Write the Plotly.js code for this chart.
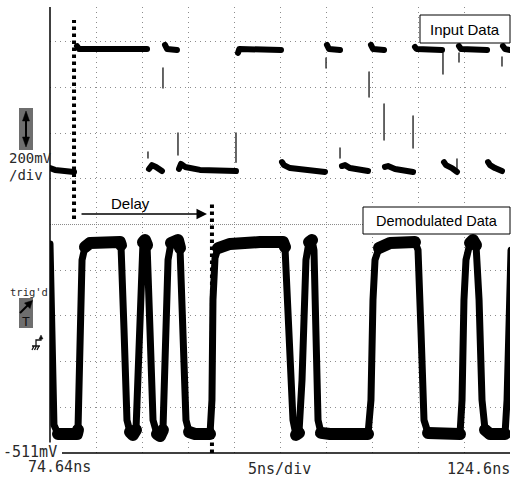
<!DOCTYPE html>
<html>
<head>
<meta charset="utf-8">
<script src="https://cdn.plot.ly/plotly-3.0.1.min.js"></script>
<style>
html,body{margin:0;padding:0;background:#fff;}
#chart{width:513px;height:479px;}
.scatterlayer path.js-line{stroke-linejoin:round !important;stroke-linecap:round !important;}
</style>
</head>
<body>
<div id="chart"></div>
<script>
// ---- Data (time in ns, screen level in mV) ----
var xRange = [74.64, 124.6];
var yRange = [-511, 1441];
var xGrid = [79.64, 84.64, 89.64, 94.64, 99.64, 104.64, 109.64, 114.64, 119.64, 124.6];
var yGrid = [-311, -111, 89, 289, 689, 889, 1089, 1289];
var ySeparator = 489;

// Demodulated Data waveform
var demodX = [74.64, 74.86, 75.07, 75.51, 77.57, 77.68, 77.90, 78.12, 78.44, 78.98,
  82.24, 82.35, 82.68, 83.00, 83.33, 83.65, 83.98, 84.31, 84.52, 84.74,
  84.96, 85.18, 85.50, 85.83, 86.26, 86.59, 86.91, 87.24, 87.46, 87.78,
  88.22, 88.54, 88.76, 89.09, 89.41, 89.74, 90.39, 92.02, 92.23, 92.34,
  92.56, 92.89, 94.19, 97.45, 99.95, 100.16, 100.60, 101.03, 101.36, 101.68,
  102.01, 102.23, 102.44, 102.77, 103.10, 103.31, 103.53, 103.75, 104.07, 105.05,
  109.18, 109.50, 109.72, 109.94, 110.37, 111.57, 114.28, 114.61, 114.93, 115.26,
  115.70, 117.00, 119.17, 119.39, 119.60, 119.82, 120.26, 120.58, 120.91, 121.24,
  121.56, 121.89, 122.43, 124.06, 124.28, 124.49, 124.71];
var demodY = [404, 27, -388, -428, -428, -410, -16, 334, 391, 408,
  412, 399, 27, -367, -419, -432, -410, -60, 334, 412,
  421, 399, 27, -367, -428, -437, -410, 27, 334, 408,
  421, 421, 386, 27, -367, -419, -428, -428, -279, 159,
  342, 386, 404, 412, 412, 391, 27, -367, -432, -423,
  -192, 159, 334, 412, 421, 377, 27, -367, -423, -428,
  -428, -279, 159, 334, 386, 408, 412, 377, 27, -367,
  -423, -428, -428, -279, 159, 334, 408, 421, 399, 159,
  -279, -410, -428, -428, -279, 159, 377];

// Input Data plateaus (segments separated by null)
var inputX = [74.64, 75.18, 77.25, null,
  77.57, 77.79, 85.18, null,
  85.39, 85.72, 86.15, 86.80, null,
  87.13, 87.35, 88.43, null,
  88.65, 88.87, 89.31, 90.93, 94.84, null,
  95.06, 95.20, 99.73, null,
  99.84, 100.05, 100.71, 104.51, null,
  104.72, 104.94, 106.14, null,
  106.35, 106.68, 107.22, 109.18, null,
  109.50, 109.72, 110.92, null,
  111.02, 111.35, 112.11, 114.07, null,
  114.28, 114.45, 117.22, null,
  117.43, 117.65, 118.30, 118.84, null,
  119.06, 119.28, 122.11, null,
  122.22, 122.43, 122.97, 123.73, null,
  123.84, 124.06, 124.60];
var inputY = [736, 728, 719, null,
  1270, 1257, 1257, null,
  732, 749, 741, 723, null,
  1275, 1257, 1253, null,
  732, 754, 741, 728, 723, null,
  1240, 1257, 1253, null,
  762, 749, 736, 719, null,
  1275, 1257, 1253, null,
  745, 749, 736, 723, null,
  1275, 1257, 1253, null,
  741, 745, 732, 719, null,
  1266, 1257, 1253, null,
  762, 749, 736, 719, null,
  1270, 1257, 1253, null,
  762, 749, 736, 723, null,
  1270, 1257, 1253];

// Input Data partial transitions (thin vertical strokes)
var edgeX = [85.28, 85.28, null, 86.91, 86.91, null, 88.54, 88.54, null, 94.84, 94.84, null,
  104.62, 104.62, null, 106.14, 106.14, null, 109.29, 109.29, null, 110.92, 110.92, null,
  114.07, 114.07, null, 117.32, 117.32, null, 118.84, 118.84, null, 119.06, 119.06, null,
  123.73, 123.73];
var edgeY = [806, 780, null, 1174, 1086, null, 889, 793, null, 889, 762, null,
  1218, 1174, null, 824, 780, null, 1156, 1047, null, 1016, 859, null,
  964, 824, null, 1240, 1148, null, 776, 714, null, 1240, 1200, null,
  1222, 1183];

// Delay markers
var delayStart = 77.25, delayEnd = 92.23;
var delayArrowTail = 77.90, delayArrowHead = 91.69, delayArrowLevel = 535;
var delayStartTop = 1384, delayStartBottom = 513, delayEndTop = 583;

// Screen labels
var labels = {
  vdiv: "200mV", vdiv2: "/div", bottomV: "-511mV", tLeft: "74.64ns", tDiv: "5ns/div",
  tRight: "124.6ns", trig: "trig'd", trigT: "T", input: "Input Data",
  demod: "Demodulated Data", delay: "Delay"
};

// ---- Layout helpers (pixel -> paper) ----
var L = 50, T = 7, PW = 460, PH = 446;
function P(px) { return (px - L) / PW; }
function Q(py) { return (T + PH - py) / PH; }
function path(pts) {
  return pts.map(function (s) {
    return s.map(function (p, i) { return (i === 0 ? 'M' : 'L') + P(p[0]).toFixed(5) + ',' + Q(p[1]).toFixed(5); }).join(' ') + (s.closed ? ' Z' : '');
  }).join(' ');
}
function tri(a, b, c) { var s = [a, b, c]; s.closed = true; return s; }

var plateauY = demodY.map(function (v) { return (v > 385 || v < -405) ? v : null; });

var traces = [
  { x: edgeX, y: edgeY, mode: 'lines', line: { color: '#333', width: 1.5 }, hoverinfo: 'skip', connectgaps: false },
  { x: inputX, y: inputY, mode: 'lines', line: { color: '#000', width: 6 }, hoverinfo: 'skip', connectgaps: false },
  { x: demodX, y: demodY, mode: 'lines', line: { color: '#000', width: 7 }, hoverinfo: 'skip' },
  { x: demodX, y: plateauY, mode: 'lines', line: { color: '#000', width: 12 }, hoverinfo: 'skip', connectgaps: false }
];

var mono = { family: 'DejaVu Sans Mono, monospace', size: 15, color: '#2a2a2a' };
var monoS = { family: 'DejaVu Sans Mono, monospace', size: 14, color: '#2a2a2a' };
var sans = { family: 'Liberation Sans, Arial, sans-serif', size: 15, color: '#000' };

function ann(text, px, py, xa, font, extra) {
  var a = { text: text, xref: 'paper', yref: 'paper', x: P(px), y: Q(py), xanchor: xa, yanchor: 'middle',
    showarrow: false, font: font, borderpad: 0 };
  if (extra) for (var k in extra) a[k] = extra[k];
  return a;
}

var annotations = [
  ann(labels.vdiv, 8, 158, 'left', monoS),
  ann(labels.vdiv2, 8, 175, 'left', monoS),
  ann(labels.bottomV, 2, 452, 'left', mono, { bgcolor: '#fff' }),
  ann(labels.tLeft, 27, 467, 'left', mono),
  ann(labels.tDiv, 247, 469, 'left', mono),
  ann(labels.tRight, 511, 469, 'right', mono),
  ann(labels.trig, 9, 292, 'left', { family: 'DejaVu Sans Mono, monospace', size: 10.5, color: '#2a2a2a' }),
  ann(labels.trigT, 26, 321, 'center', { family: 'DejaVu Sans Mono, monospace', size: 13, color: '#111' }),
  ann(labels.input, 465, 29, 'center', sans),
  ann(labels.demod, 436.5, 221, 'center', { family: 'Liberation Sans, Arial, sans-serif', size: 14.5, color: '#000' }),
  ann(labels.delay, 130, 203, 'center', sans),
  { x: delayArrowHead, y: delayArrowLevel, ax: delayArrowTail, ay: delayArrowLevel, xref: 'x', yref: 'y',
    axref: 'x', ayref: 'y', text: '', showarrow: true, arrowhead: 2, arrowsize: 1.4, arrowwidth: 1.5, arrowcolor: '#000' }
];

var shapes = [
  // separator between channels
  { type: 'line', xref: 'paper', yref: 'y', x0: 0, x1: 1, y0: ySeparator, y1: ySeparator, layer: 'below',
    line: { color: '#8a8a8a', width: 1, dash: '1px,1px' } },
  // axis lines
  { type: 'line', xref: 'paper', yref: 'paper', x0: 0, x1: 0, y0: Q(447), y1: 1, line: { color: '#000', width: 1.5 } },
  { type: 'line', xref: 'paper', yref: 'paper', x0: P(62), x1: 1, y0: 0, y1: 0, line: { color: '#000', width: 1.5 } },
  // delay markers
  { type: 'line', xref: 'x', yref: 'y', x0: delayStart, x1: delayStart, y0: delayStartBottom, y1: delayStartTop,
    line: { color: '#000', width: 4, dash: '3.5px,3.5px' } },
  { type: 'line', xref: 'x', yref: 'y', x0: delayEnd, x1: delayEnd, y0: yRange[0], y1: delayEndTop,
    line: { color: '#000', width: 4, dash: '3.5px,3.5px' } },
  // label boxes
  { type: 'rect', xref: 'paper', yref: 'paper', x0: P(420), x1: P(510), y0: Q(43), y1: Q(15),
    fillcolor: '#fff', line: { color: '#000', width: 1 } },
  { type: 'rect', xref: 'paper', yref: 'paper', x0: P(363), x1: P(510), y0: Q(234), y1: Q(207),
    fillcolor: '#fff', line: { color: '#000', width: 1 } },
  // volts/div icon
  { type: 'rect', xref: 'paper', yref: 'paper', x0: P(19), x1: P(33), y0: Q(150), y1: Q(108),
    fillcolor: '#6e6e6e', line: { width: 0 } },
  { type: 'path', xref: 'paper', yref: 'paper', path: path([[[26, 118], [26, 140]]]), line: { color: '#000', width: 2 } },
  { type: 'path', xref: 'paper', yref: 'paper', path: path([tri([26, 111], [22.5, 121], [29.5, 121]), tri([26, 147], [22.5, 137], [29.5, 137])]),
    fillcolor: '#000', line: { color: '#000', width: 0.5 } },
  // trigger icon
  { type: 'rect', xref: 'paper', yref: 'paper', x0: P(19), x1: P(33), y0: Q(328), y1: Q(298),
    fillcolor: '#6e6e6e', line: { width: 0 } },
  { type: 'path', xref: 'paper', yref: 'paper', path: path([[[20, 313], [28, 305]]]), line: { color: '#000', width: 2 } },
  { type: 'path', xref: 'paper', yref: 'paper', path: path([tri([32.5, 300.5], [24.5, 303], [30, 308.5])]),
    fillcolor: '#000', line: { color: '#000', width: 0.5 } },
  // ground / edge symbol
  { type: 'path', xref: 'paper', yref: 'paper',
    path: path([[[32, 346], [40, 346]], [[36, 346], [36, 340], [41, 340], [41, 337]], [[32, 350], [34, 346]], [[34.5, 350], [36.5, 346]], [[37, 350], [39, 346]]]),
    line: { color: '#111', width: 1.3 } },
  { type: 'path', xref: 'paper', yref: 'paper', path: path([tri([41, 335], [39, 339], [43, 339])]),
    fillcolor: '#111', line: { color: '#111', width: 0.5 } }
];

var axisCommon = { showticklabels: false, ticks: '', showline: false, zeroline: false, showgrid: true,
  gridcolor: '#8c8c8c', gridwidth: 1, griddash: '1px,4px', fixedrange: true };

var layout = {
  width: 513, height: 479,
  margin: { l: L, r: 513 - L - PW, t: T, b: 479 - T - PH, pad: 0 },
  paper_bgcolor: '#fff', plot_bgcolor: '#fff',
  showlegend: false,
  xaxis: Object.assign({ range: xRange, tickvals: xGrid }, axisCommon),
  yaxis: Object.assign({ range: yRange, tickvals: yGrid }, axisCommon),
  annotations: annotations,
  shapes: shapes
};

Plotly.newPlot('chart', traces, layout, { staticPlot: true, displayModeBar: false });
</script>
</body>
</html>
